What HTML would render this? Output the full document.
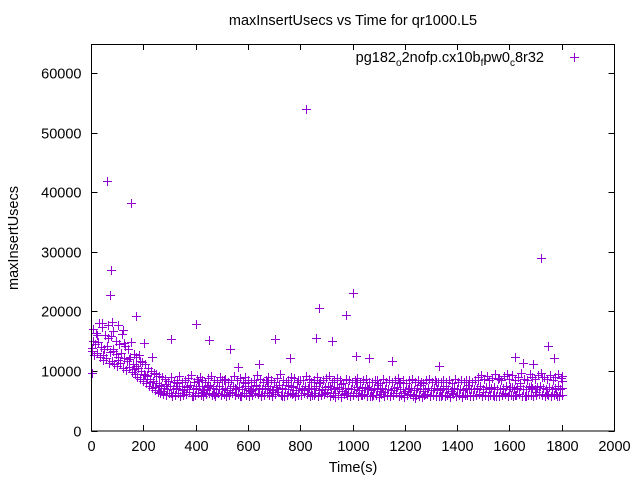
<!DOCTYPE html>
<html><head><meta charset="utf-8"><style>
html,body{margin:0;padding:0;background:#fff;}
svg{display:block;font-family:"Liberation Sans",sans-serif;}
</style></head><body>
<svg id="chart" width="640" height="480" viewBox="0 0 640 480" xmlns="http://www.w3.org/2000/svg">
<text x="353" y="25" font-size="14.5" text-anchor="middle">maxInsertUsecs vs Time for qr1000.L5</text>
<text transform="translate(18,238) rotate(-90)" font-size="14.5" text-anchor="middle">maxInsertUsecs</text>
<text x="353" y="472" font-size="14.5" text-anchor="middle">Time(s)</text>
<g id="ticks"></g>
<g id="marks"></g>
<rect x="91.5" y="44.5" width="523" height="386.5" fill="none" stroke="#000" stroke-width="1"/>
<g>
<text x="544" y="62" font-size="14.5" text-anchor="end">pg182<tspan font-size="10" dy="4">o</tspan><tspan dy="-4">2nofp.cx10b</tspan><tspan font-size="10" dy="4">f</tspan><tspan dy="-4">pw0</tspan><tspan font-size="10" dy="4">c</tspan><tspan dy="-4">8r32</tspan></text>
<path d="M570,57.5h9M574.5,53v9" stroke="#9400d3" stroke-width="1" shape-rendering="crispEdges"/>
</g>
</svg>
<script>
const xTicks=[0,200,400,600,800,1000,1200,1400,1600,1800,2000];
const yTicks=[0,10000,20000,30000,40000,50000,60000];
const lastTime=1800;
const lowBand=[13.5,12.8,13.1,12.4,11.9,12.2,11.5,11.8,11.2,10.9,11.4,10.6,10.2,10.8,9.9,9.5,9.1,8.8,8.4,8.0,7.6,7.2,6.9,6.6,6.4,
6.2,6.0,6.3,5.9,6.1,6.4,5.8,6.0,6.2,6.5,5.9,6.1,
6.3,6.0,5.8,6.2,6.4,6.1,5.9,6.3,6.0,6.2,5.8,6.1,
6.4,6.0,6.2,5.9,6.3,6.1,5.8,6.0,6.4,6.2,5.9,6.1,
6.3,6.0,5.8,6.2,6.5,6.1,5.9,6.0,6.3,6.2,5.8,6.1,
6.0,6.4,6.2,5.9,6.1,6.3,5.8,6.0,6.2,6.4,5.9,6.1,
6.3,6.0,5.7,6.2,6.1,5.9,6.0,6.3,5.8,6.1,6.2,5.9,
5.8,6.1,6.0,5.7,6.2,5.9,6.0,5.8,6.1,6.3,5.9,6.0,
5.7,6.0,6.2,5.8,6.1,5.9,5.7,6.0,6.2,5.8,6.1,5.9,
5.8,6.1,5.9,6.0,5.7,6.2,5.9,6.0,5.8,6.1,6.0,5.9,
5.8,6.0,6.2,5.9,6.1,5.8,6.0,6.1,5.9,5.8,6.0,6.2,
5.9,6.1,5.8,6.0,6.2,5.9,5.8,6.1,6.0,5.9,6.1,6.2,
6.0,5.9,6.1,5.8,6.0,6.2,5.9,6.1];
const midBand=[15.2,14.6,14.9,14.1,13.8,14.3,13.2,13.7,12.9,12.5,13.1,12.2,11.8,12.4,11.3,10.9,10.6,10.1,9.6,9.2,8.7,8.4,8.1,7.8,7.6,
7.3,7.1,7.5,7.0,7.2,7.6,6.9,7.1,7.4,7.7,7.0,7.3,
7.5,7.1,6.9,7.4,7.6,7.2,7.0,7.5,7.1,7.3,6.9,7.2,
7.6,7.1,7.4,7.0,7.5,7.2,6.9,7.1,7.7,7.3,7.0,7.2,
7.5,7.1,6.9,7.4,7.8,7.2,7.0,7.1,7.5,7.4,6.9,7.2,
7.1,7.6,7.3,7.0,7.2,7.5,6.9,7.1,7.4,7.6,7.0,7.2,
7.4,7.1,6.8,7.3,7.2,7.0,7.1,7.4,6.9,7.2,7.3,7.0,
6.9,7.2,7.1,6.8,7.3,7.0,7.1,6.9,7.2,7.4,7.0,7.1,
6.8,7.1,7.3,6.9,7.2,7.0,6.8,7.1,7.3,6.9,7.2,7.0,
6.9,7.2,7.0,7.1,6.8,7.3,7.0,7.1,6.9,7.2,7.1,7.0,
7.0,7.3,7.5,7.1,7.4,7.0,7.2,7.4,7.1,7.0,7.3,7.5,
7.1,7.4,7.0,7.2,7.6,7.1,7.0,7.4,7.2,7.1,7.4,7.5,
7.2,7.1,7.4,7.0,7.2,7.5,7.1,7.3];
const highBand=[17.2,16.5,18.1,17.4,16.2,17.8,15.9,16.8,15.1,14.6,16.3,14.2,13.8,14.9,12.9,12.4,12.8,11.6,11.2,10.6,10.1,9.8,9.5,9.3,9.1,
8.7,8.4,9.0,8.3,8.6,9.2,8.2,8.5,8.9,9.4,8.3,8.7,
9.1,8.5,8.2,8.9,9.3,8.6,8.3,9.0,8.5,8.8,8.2,8.6,
9.2,8.5,8.9,8.3,9.1,8.6,8.2,8.5,9.4,8.8,8.3,8.6,
9.0,8.5,8.2,8.9,9.6,8.6,8.3,8.5,9.1,8.9,8.2,8.6,
8.5,9.3,8.8,8.3,8.6,9.1,8.2,8.5,8.9,9.3,8.3,8.6,
8.9,8.5,8.1,8.8,8.6,8.3,8.5,8.9,8.2,8.6,8.8,8.3,
8.2,8.6,8.5,8.1,8.8,8.3,8.5,8.2,8.6,8.9,8.3,8.5,
8.1,8.5,8.8,8.2,8.6,8.3,8.1,8.5,8.8,8.2,8.6,8.3,
8.2,8.6,8.3,8.5,8.1,8.8,8.3,8.5,8.2,8.6,8.5,8.3,
8.6,9.0,9.4,8.8,9.3,8.5,8.9,9.5,8.7,8.6,9.2,9.6,
8.8,9.4,8.6,9.0,9.8,8.8,8.6,9.5,9.0,8.8,9.4,9.7,
9.0,8.8,9.4,8.6,9.1,9.6,8.9,9.2];
const extraBand=[14.0,16.1,12.7,15.6,13.4,11.9,14.8,12.1,10.4,11.7,9.4,8.2,7.4,6.7,7.9,6.4,8.1,6.9,7.6,5.9,
8.4,6.6,7.8,6.2,7.0,8.6,6.5,7.3,5.8,8.0,6.8,7.5,6.1,8.3,6.6,7.1,5.9,7.7,6.4,8.5,
6.9,7.2,6.0,8.1,6.5,7.6,5.7,7.9,6.3,7.0,8.2,6.1,7.4,5.8,7.8,6.6,7.1,6.0,8.0,6.4,
7.3,5.6,7.7,6.2,6.9,8.3,5.9,7.5,6.4,7.0,5.7,7.8,6.1,8.6,6.5,7.2,5.8,8.9,6.3,7.4,
6.0,8.1,5.9,7.6,6.6,9.0,6.2,7.1,5.8,8.4];
const outTimes=[0,60,75,70,150,170,305,400,450,530,700,760,820,870,860,920,975,1000,1010,1060,1150,1330,1720,1745,1770,1620,1690,1650,80,100,40,120,200,230,640,560];
const outValues=[9.8,42.0,27.0,22.8,38.3,19.3,15.5,17.9,15.3,13.7,15.5,12.2,54.0,20.6,15.7,15.2,19.4,23.2,12.6,12.2,11.8,11.0,29.0,14.2,12.2,12.4,11.2,11.5,18.3,17.8,18.2,16.9,14.8,12.5,11.2,10.8];
const bandOffsets=[0,4,7,2];
const X0=91.5,X1=614.5,Y0=431,Y1=44;
const xScale=t=>X0+(t/2000)*(X1-X0);
const yScale=v=>Y0-(v/65000)*(Y0-Y1);
const NS="http://www.w3.org/2000/svg";
const tg=document.getElementById('ticks');
function mk(tag,attrs,parent){const e=document.createElementNS(NS,tag);for(const k in attrs)e.setAttribute(k,attrs[k]);parent.appendChild(e);return e;}
xTicks.forEach(t=>{const x=Math.round(xScale(t)-0.5)+0.5;
 const l=mk('path',{d:`M${x},${Y0}v-6M${x},${Y1}v6`,stroke:'#000','shape-rendering':'crispEdges'},tg);
 
 
 const tx=mk('text',{x:x,y:Y0+20,'font-size':'14.5','text-anchor':'middle'},tg);tx.textContent=t;
 
 });
yTicks.forEach(v=>{const y=Math.round(yScale(v)-0.5)+0.5;
 const l=mk('path',{d:`M${X0},${y}h6M${X1},${y}h-6`,stroke:'#000','shape-rendering':'crispEdges'},tg);
 
 
 const tx=mk('text',{x:X0-10,y:y+5,'font-size':'14.5','text-anchor':'end'},tg);tx.textContent=v;
 
 });
const mg=document.getElementById('marks');
let d='';
function plus(t,v){const x=Math.round(xScale(t))+0.5,y=Math.round(yScale(v))+0.5;d+=`M${x-4.5},${y}h9M${x},${y-4.5}v9`;}
[lowBand,midBand,highBand,extraBand].forEach((band,b)=>{const step=lastTime/(band.length-1);band.forEach((v,i)=>plus(Math.min(lastTime,i*step+bandOffsets[b]),v*1000));});
outTimes.forEach((t,i)=>plus(t,outValues[i]*1000));
const p=mk('path',{d:d,stroke:'#9400d3','stroke-width':'1',fill:'none','shape-rendering':'crispEdges'},mg);


</script>
</body></html>
